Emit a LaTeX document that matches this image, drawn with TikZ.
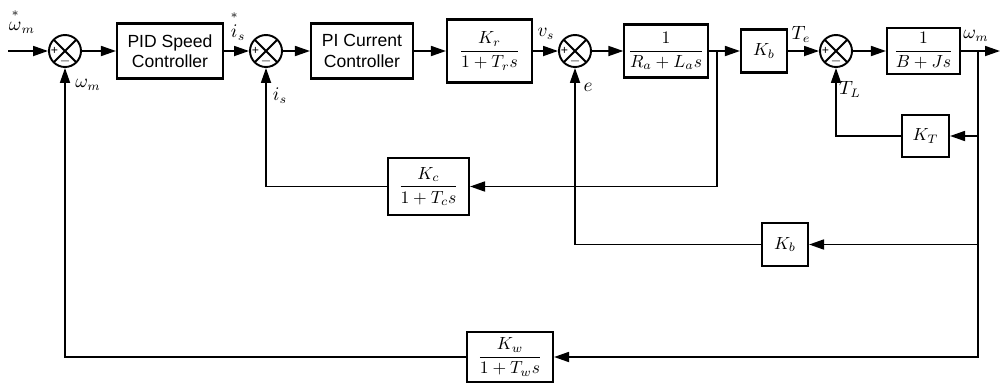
\documentclass[tikz,border=0pt]{standalone}
\usepackage{amsmath}
\usepackage{fontspec}
\setmainfont{Liberation Sans}
\usetikzlibrary{arrows.meta}
\newcommand{\ostar}[1]{\overset{\raisebox{1.5pt}{$\scriptstyle*$}}{#1}}

\tikzset{
  blk/.style={draw,line width=1.2pt,inner sep=2pt,align=center,font=\fontsize{10}{11.5}\selectfont},
  sumjn/.style={circle,draw,line width=1.1pt,minimum size=0.64cm,inner sep=0pt,
    path picture={
      \draw[line width=1.1pt] (path picture bounding box.north west) -- (path picture bounding box.south east)
        (path picture bounding box.north east) -- (path picture bounding box.south west);
      \node[font=\fontsize{7}{7}\selectfont,inner sep=0pt] at ([xshift=0.11cm]path picture bounding box.west) {+};
      \node[font=\fontsize{7}{7}\selectfont,inner sep=0pt] at ([yshift=0.11cm]path picture bounding box.south) {$-$};
    }},
  sig/.style={font=\fontsize{10.5}{12}\selectfont,inner sep=0pt},
}

\begin{document}
\begin{tikzpicture}[x=0.02cm,y=-0.02cm,>={Triangle[length=0.3cm,width=0.2cm]},line width=1pt]
    \useasboundingbox (0,0) rectangle (1001,383);

    \node[sumjn] (s1) at (65,51) {};
    \node[blk,minimum width=2.12cm,minimum height=1.1cm] (pid) at (170,51) {PID Speed\\Controller};
    \node[sumjn] (s2) at (266,51) {};
    \node[blk,minimum width=2.04cm,minimum height=1.1cm] (pic) at (362,51) {PI Current\\Controller};
    \node[blk,minimum width=1.7cm,minimum height=1.26cm] (kr) at (489.5,51) {$\dfrac{K_r}{1+T_r s}$};
    \node[sumjn] (s3) at (575,51) {};
    \node[blk,minimum width=1.64cm,minimum height=1.06cm] (ra) at (666,51) {$\dfrac{1}{R_a+L_a s}$};
    \node[blk,minimum width=0.92cm,minimum height=0.86cm] (kb) at (764,51) {$K_b$};
    \node[sumjn] (s4) at (836,51) {};
    \node[blk,minimum width=1.46cm,minimum height=0.92cm] (bj) at (923.5,51) {$\dfrac{1}{B+Js}$};
    \node[blk,minimum width=0.94cm,minimum height=0.84cm] (kt) at (925.5,136) {$K_T$};
    \node[blk,minimum width=1.62cm,minimum height=1.14cm] (kc) at (428.5,186.5) {$\dfrac{K_c}{1+T_c s}$};
    \node[blk,minimum width=0.92cm,minimum height=0.86cm] (kb2) at (785,244.5) {$K_b$};
    \node[blk,minimum width=1.72cm,minimum height=1.0cm] (kw) at (510,357) {$\dfrac{K_w}{1+T_w s}$};

    \coordinate (in) at (8,51);
    \coordinate (out) at (1000,51);
    \coordinate (b1) at (717,51);
    \coordinate (b2) at (978,51);

    \node[sig] (wref) at (22,21) {$\ostar{\omega}_m$};
    \node[sig] (wfb) at (88,85) {$\omega_m$};
    \node[sig] (isref) at (238,26) {$\ostar{i}_s$};
    \node[sig] (isfb) at (280,96) {$i_s$};
    \node[sig] (vs) at (546,34) {$v_s$};
    \node[sig] (efb) at (588,87) {$e$};
    \node[sig] (te) at (801,34) {$T_e$};
    \node[sig] (tl) at (850,89) {$T_L$};
    \node[sig] (wout) at (976,36) {$\omega_m$};

    \path[->]
    (in) edge (s1)
    (s1) edge (pid)
    (pid) edge (s2)
    (s2) edge (pic)
    (pic) edge (kr)
    (kr) edge (s3)
    (s3) edge (ra)
    (b1) edge (kb)
    (kb) edge (s4)
    (s4) edge (bj)
    (b2) edge (out);
    \draw (ra) -- (b1);
    \draw (bj) -- (b2);

    \draw[->] (b2) |- (kt);
    \draw[->] (kt) -| (s4);
    \draw[->] (b1) |- (kc);
    \draw[->] (kc) -| (s2);
    \draw[->] (b2) |- (kb2);
    \draw[->] (kb2) -| (s3);
    \draw[->] (b2) |- (kw);
    \draw[->] (kw) -| (s1);

  \end{tikzpicture}
\end{document}
